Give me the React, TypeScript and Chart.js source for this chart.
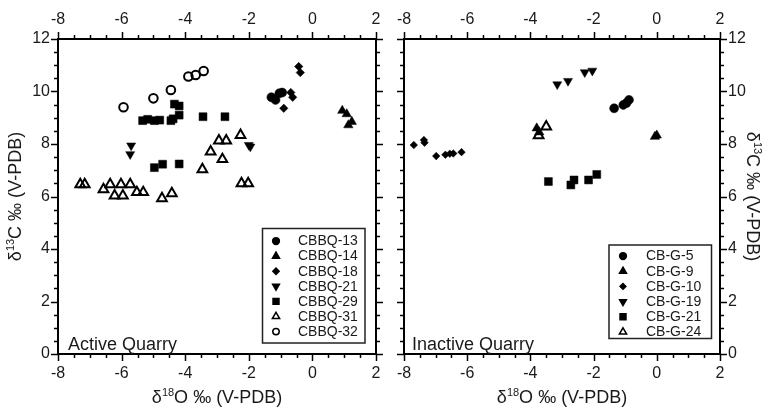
import React, { useEffect, useRef } from 'react';
import { Chart, registerables } from 'chart.js';
import * as helpers from 'chart.js/helpers';

Chart.register(...registerables);

type P = [number, number];

// ---------- Active Quarry (left panel) ----------
const CBBQ13: P[] = [[-1.29, 9.78], [-1.16, 9.68], [-1.04, 9.93], [-0.95, 9.96]];
const CBBQ14: P[] = [[0.94, 9.27], [1.08, 9.14], [1.13, 8.72], [1.24, 8.85]];
const CBBQ18: P[] = [[-0.43, 10.95], [-0.38, 10.72], [-0.68, 9.96], [-0.62, 9.78], [-0.90, 9.36]];
const CBBQ21: P[] = [[-5.70, 7.94], [-5.73, 7.61], [-2.00, 7.96], [-1.95, 7.90]];
const CBBQ29: P[] = [
  [-5.34, 8.89], [-5.18, 8.94], [-4.97, 8.89], [-4.80, 8.91], [-4.45, 8.89], [-4.38, 8.96],
  [-4.19, 9.10], [-4.34, 9.52], [-4.19, 9.45], [-3.44, 9.04], [-2.75, 9.04],
  [-4.97, 7.10], [-4.71, 7.23], [-4.19, 7.24],
];
const CBBQ31: P[] = [
  [-7.30, 6.46], [-7.16, 6.46], [-6.57, 6.27], [-6.36, 6.46], [-6.22, 6.03], [-6.02, 6.46],
  [-5.96, 6.03], [-5.73, 6.46], [-5.52, 6.16], [-5.32, 6.16], [-4.73, 5.93], [-4.42, 6.12],
  [-3.46, 7.03], [-3.20, 7.71], [-2.83, 7.42], [-2.23, 6.50], [-2.02, 6.50],
  [-2.94, 8.13], [-2.71, 8.13], [-2.26, 8.34],
];
const CBBQ32: P[] = [[-5.94, 9.40], [-5.00, 9.74], [-4.45, 10.06], [-3.90, 10.57], [-3.67, 10.63], [-3.42, 10.78]];

// ---------- Inactive Quarry (right panel) ----------
const CBG5: P[] = [[-1.35, 9.36], [-1.06, 9.49], [-0.96, 9.56], [-0.88, 9.68]];
const CBG9: P[] = [[-3.80, 8.60], [-3.72, 8.45], [-0.06, 8.28], [0.0, 8.33]];
const CBG10: P[] = [[-7.69, 7.96], [-7.37, 8.15], [-7.35, 8.05], [-6.98, 7.54], [-6.69, 7.59], [-6.55, 7.63], [-6.44, 7.64], [-6.18, 7.69]];
const CBG19: P[] = [[-3.15, 10.27], [-2.81, 10.40], [-2.28, 10.73], [-2.04, 10.79]];
const CBG21: P[] = [[-3.43, 6.57], [-2.72, 6.44], [-2.62, 6.63], [-2.16, 6.63], [-1.90, 6.84]];
const CBG24: P[] = [[-3.74, 8.33], [-3.50, 8.66]];

const X_MIN = -8, X_MAX = 2, Y_MIN = 0, Y_MAX = 12;
const MAJOR_STEP = 2, MINOR_STEP = 0.5;
const X_TITLE = { pre: 'δ', sup: '18', post: 'O ‰ (V-PDB)' };
const Y_TITLE = { pre: 'δ', sup: '13', post: 'C ‰ (V-PDB)' };

const FONT = '"Liberation Sans", Arial, Helvetica, sans-serif';
const TEXT = '#1a1a1a';

type Marker = { pointStyle: string; radius: number; rotation?: number; open?: boolean };
const M = {
  circle: { pointStyle: 'circle', radius: 4.5 } as Marker,
  tri: { pointStyle: 'triangle', radius: 5.4 } as Marker,
  diamond: { pointStyle: 'rectRot', radius: 4.2 } as Marker,
  triDown: { pointStyle: 'triangle', radius: 5.2, rotation: 180 } as Marker,
  square: { pointStyle: 'rect', radius: 5.6 } as Marker,
  triOpen: { pointStyle: 'triangle', radius: 5.6, open: true } as Marker,
  circleOpen: { pointStyle: 'circle', radius: 4.3, open: true } as Marker,
};

function ds(label: string, data: P[], m: Marker) {
  return {
    label,
    data: data.map(([x, y]) => ({ x, y })),
    pointStyle: m.pointStyle,
    pointRadius: m.radius,
    pointRotation: m.rotation || 0,
    pointBackgroundColor: m.open ? 'rgba(255,255,255,0)' : '#000',
    pointBorderColor: '#000',
    pointBorderWidth: m.open ? 2 : 0.5,
    _marker: m,
  };
}

function drawSupText(ctx: CanvasRenderingContext2D, t: { pre: string; sup: string; post: string }, size: number) {
  const main = `${size}px ${FONT}`;
  const small = `${Math.round(size * 0.6)}px ${FONT}`;
  ctx.font = main;
  const w1 = ctx.measureText(t.pre).width;
  const w3 = ctx.measureText(t.post).width;
  ctx.font = small;
  const w2 = ctx.measureText(t.sup).width;
  const total = w1 + w2 + w3;
  let x = -total / 2;
  ctx.textBaseline = 'middle';
  ctx.textAlign = 'left';
  ctx.font = main;
  ctx.fillText(t.pre, x, 0);
  x += w1;
  ctx.font = small;
  ctx.fillText(t.sup, x, -size * 0.3);
  x += w2;
  ctx.font = main;
  ctx.fillText(t.post, x, 0);
}

const decorPlugin = {
  id: 'decor',
  afterDraw(chart: any) {
    const opts = chart.options.plugins.decor;
    const ctx: CanvasRenderingContext2D = chart.ctx;
    const { left, right, top, bottom } = chart.chartArea;
    ctx.save();
    // tick marks (major + minor), outward
    ctx.strokeStyle = '#000';
    ctx.lineWidth = 1.5;
    for (const id of Object.keys(chart.scales)) {
      const s = chart.scales[id];
      for (let v = s.min; v <= s.max + 1e-9; v += MINOR_STEP) {
        const major = Math.abs(Math.round(v / MAJOR_STEP) * MAJOR_STEP - v) < 1e-9;
        const len = major ? 7 : 4;
        const p = Math.round(s.getPixelForValue(v)) + 0.5;
        ctx.beginPath();
        if (s.position === 'bottom') { ctx.moveTo(p, bottom); ctx.lineTo(p, bottom + len); }
        else if (s.position === 'top') { ctx.moveTo(p, top); ctx.lineTo(p, top - len); }
        else if (s.position === 'left') { ctx.moveTo(left, p); ctx.lineTo(left - len, p); }
        else { ctx.moveTo(right, p); ctx.lineTo(right + len, p); }
        ctx.stroke();
      }
    }
    ctx.fillStyle = TEXT;
    // x title
    ctx.save();
    ctx.translate((left + right) / 2, opts.xTitleY);
    drawSupText(ctx, X_TITLE, opts.titleSize);
    ctx.restore();
    // y title
    ctx.save();
    ctx.translate(opts.yTitleX, (top + bottom) / 2);
    ctx.rotate(opts.yTitleRot);
    drawSupText(ctx, Y_TITLE, opts.titleSize);
    ctx.restore();
    // panel label
    ctx.font = `${opts.panelSize}px ${FONT}`;
    ctx.textAlign = 'left';
    ctx.textBaseline = 'alphabetic';
    ctx.fillText(opts.panelLabel, left + opts.panelDx, bottom - opts.panelDy);
    // legend box
    const lg = opts.legend;
    ctx.fillStyle = '#fff';
    ctx.fillRect(lg.x, lg.y, lg.w, lg.h);
    ctx.strokeStyle = '#222';
    ctx.lineWidth = 1.5;
    ctx.strokeRect(lg.x, lg.y, lg.w, lg.h);
    chart.data.datasets.forEach((d: any, i: number) => {
      const m: Marker = d._marker;
      const cy = lg.firstY + i * lg.step;
      ctx.fillStyle = m.open ? 'rgba(255,255,255,0)' : '#000';
      ctx.strokeStyle = '#000';
      helpers.drawPoint(ctx, {
        pointStyle: m.pointStyle as any,
        radius: m.radius * 0.75,
        rotation: m.rotation || 0,
        borderWidth: m.open ? 2 : 0.5,
      } as any, lg.markerX, cy);
      ctx.fillStyle = TEXT;
      ctx.font = `${lg.fontSize}px ${FONT}`;
      ctx.textAlign = 'left';
      ctx.textBaseline = 'middle';
      ctx.fillText(d.label, lg.textX, cy + 0.5);
    });
    ctx.restore();
  },
};

function makeConfig(datasets: any[], side: 'left' | 'right', decor: any): any {
  const tickFont = { family: FONT, size: 16 };
  const fix = (prop: 'width' | 'height', val: number) => (s: any) => { s[prop] = val; };
  const isLeft = side === 'left';
  const common = (position: string) => ({
    type: 'linear',
    position,
    grid: { display: false, drawTicks: true, tickLength: 7 },
    border: { display: true, color: '#000', width: 2 },
  });
  return {
    type: 'scatter',
    data: { datasets },
    plugins: [decorPlugin],
    options: {
      responsive: false,
      animation: false,
      devicePixelRatio: 1,
      layout: { padding: 0 },
      plugins: { legend: { display: false }, tooltip: { enabled: false }, decor },
      scales: {
        x: {
          ...common('bottom'), min: X_MIN, max: X_MAX,
          ticks: { stepSize: MAJOR_STEP, font: tickFont, color: TEXT, padding: 3, maxRotation: 0 },
          afterFit: fix('height', 410 - 354),
        },
        x2: {
          ...common('top'), min: X_MIN, max: X_MAX,
          ticks: { stepSize: MAJOR_STEP, font: tickFont, color: TEXT, padding: 3, maxRotation: 0 },
          afterFit: fix('height', 39),
        },
        y: {
          ...common('left'), min: Y_MIN, max: Y_MAX,
          ticks: { display: isLeft, stepSize: MAJOR_STEP, font: tickFont, color: TEXT, padding: 1 },
          afterFit: fix('width', isLeft ? 58 : 404),
        },
        y2: {
          ...common('right'), min: Y_MIN, max: Y_MAX,
          ticks: { display: !isLeft, stepSize: MAJOR_STEP, font: tickFont, color: TEXT, padding: 1 },
          afterFit: fix('width', isLeft ? 765 - 376 : 765 - 720),
        },
      },
    },
  };
}

export default function App() {
  const leftRef = useRef<HTMLCanvasElement>(null);
  const rightRef = useRef<HTMLCanvasElement>(null);

  useEffect(() => {
    const leftSets = [
      ds('CBBQ-13', CBBQ13, M.circle),
      ds('CBBQ-14', CBBQ14, M.tri),
      ds('CBBQ-18', CBBQ18, M.diamond),
      ds('CBBQ-21', CBBQ21, M.triDown),
      ds('CBBQ-29', CBBQ29, M.square),
      ds('CBBQ-31', CBBQ31, M.triOpen),
      ds('CBBQ-32', CBBQ32, M.circleOpen),
    ];
    const rightSets = [
      ds('CB-G-5', CBG5, M.circle),
      ds('CB-G-9', CBG9, M.tri),
      ds('CB-G-10', CBG10, { ...M.diamond, radius: 3.8 }),
      ds('CB-G-19', CBG19, M.triDown),
      ds('CB-G-21', CBG21, M.square),
      ds('CB-G-24', CBG24, M.triOpen),
    ];
    const c1 = new Chart(leftRef.current as HTMLCanvasElement, makeConfig(leftSets, 'left', {
      xTitleY: 398, yTitleX: 16, yTitleRot: -Math.PI / 2, titleSize: 18,
      panelLabel: 'Active Quarry', panelSize: 18, panelDx: 10, panelDy: 4,
      legend: { x: 262.5, y: 228.5, w: 102.5, h: 114.5, firstY: 241, step: 15.1, markerX: 276, textX: 298, fontSize: 14 },
    }));
    const c2 = new Chart(rightRef.current as HTMLCanvasElement, makeConfig(rightSets, 'right', {
      xTitleY: 398, yTitleX: 752, yTitleRot: Math.PI / 2, titleSize: 18,
      panelLabel: 'Inactive Quarry', panelSize: 18, panelDx: 8, panelDy: 4,
      legend: { x: 609, y: 245, w: 102.5, h: 93.5, firstY: 256, step: 15.2, markerX: 623, textX: 646, fontSize: 14 },
    }));
    return () => { c1.destroy(); c2.destroy(); };
  }, []);

  const cs: React.CSSProperties = { position: 'absolute', left: 0, top: 0, width: 765, height: 410 };
  return (
    <div style={{ position: 'fixed', left: 0, top: 0, width: 765, height: 410, background: '#fff' }}>
      <canvas ref={leftRef} width={765} height={410} style={cs} />
      <canvas ref={rightRef} width={765} height={410} style={cs} />
    </div>
  );
}
